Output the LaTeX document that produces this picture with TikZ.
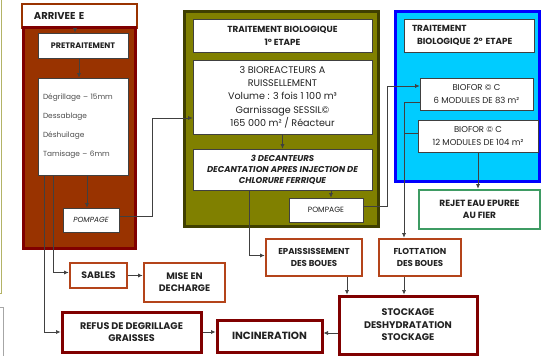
\documentclass[tikz,border=0pt]{standalone}
\usepackage{fontspec}
\setmainfont{Poppins}
\usetikzlibrary{arrows.meta}

\definecolor{rust}{HTML}{993300}
\definecolor{maroon}{HTML}{800000}
\definecolor{clay}{HTML}{B4441A}
\definecolor{olivefill}{HTML}{808000}
\definecolor{olivedark}{HTML}{3F3F00}
\definecolor{skyfill}{HTML}{00CCFF}
\definecolor{bluedge}{HTML}{0000FF}
\definecolor{greenedge}{HTML}{3E9B63}
\definecolor{wirec}{HTML}{404040}
\definecolor{inkc}{HTML}{222222}

% box from its left/top/right/bottom edges: name, x1, y1, x2, y2, style, text
\newcommand\blk[7]{%
  \node[#6, minimum width={(#4-#2)*1pt}, minimum height={(#5-#3)*1pt}]
    (#1) at ({(#2+#4)/2},{(#3+#5)/2}) {#7};}

\newcommand\hdfont{\fontsize{8.8}{13}\selectfont\bfseries}
\newcommand\clayfont{\fontsize{8.6}{11.8}\selectfont\bfseries}
\newcommand\redfont{\fontsize{9.6}{12.5}\selectfont\bfseries}

\tikzset{
  container/.style={line width=3pt, inner sep=0pt},
  wbox/.style={draw=black!75, line width=0.6pt, fill=white, inner sep=1pt,
               align=center, text=inkc},
  claybox/.style={draw=clay, line width=2.6pt, fill=white, inner sep=1pt,
               align=center, text=inkc, font=\clayfont},
  redbox/.style={draw=maroon, line width=3pt, fill=white, inner sep=1pt,
               align=center, text=inkc, font=\redfont},
  greenbox/.style={draw=greenedge, line width=2.6pt, fill=white, inner sep=1pt,
               align=center, text=inkc, font=\fontsize{9}{11.5}\selectfont\bfseries},
  conn/.style={draw=wirec, line width=0.7pt, -{Latex[length=4.5pt,width=4pt]}},
  wireline/.style={draw=wirec, line width=0.7pt},
}

\begin{document}
\begin{tikzpicture}[x=1pt,y=-1pt]
\fill[white] (0,0) rectangle (542,356);
\useasboundingbox (0,0) rectangle (542,356);

% frame edges at the left border
\draw[draw=olivefill!60!white, line width=0.8pt] (1,0) -- (1,293) -- (0,293);
\draw[draw=black!35, line width=0.8pt] (0,307) -- (3,307) -- (3,356);

% ---- inlet column ----
\blk{arr}{22}{4}{137}{28}{draw=rust, line width=2pt, fill=white, inner xsep=11pt,
     text width=91pt, align=left, text=inkc, font=\fontsize{10}{11}\selectfont\bfseries}{ARRIVEE E}
\blk{pretcol}{23.5}{27}{135.5}{248.5}{container, draw=maroon, fill=rust}{}
\blk{pre}{38}{33}{128}{58}{wbox, font=\fontsize{8}{9}\selectfont\bfseries}{PRETRAITEMENT}
\blk{det}{38}{78}{128}{175}{wbox, align=left, text width=80pt, inner xsep=5pt,
     font=\fontsize{7.4}{19}\selectfont, text=black!70}%
     {Dégrillage – 15mm\\Dessablage\\Déshuilage\\Tamisage – 6mm}
\blk{pomp1}{63}{208}{119}{232}{wbox, font=\fontsize{7.4}{8}\selectfont\itshape}{POMPAGE}

% ---- first biological stage ----
\blk{bio1col}{184.5}{11.5}{378.5}{226.5}{container, draw=olivedark, fill=olivefill}{}
\blk{t1}{193}{19}{372}{52}{wbox, font=\hdfont}{TRAITEMENT BIOLOGIQUE\\1° ETAPE}
\blk{bio}{193}{60}{372}{134}{wbox, font=\fontsize{9.6}{13.3}\selectfont}%
     {3 BIOREACTEURS A\\RUISSELLEMENT\\Volume : 3 fois 1 100 m³\\Garnissage SESSIL©\\165 000 m² / Réacteur}
\blk{dec}{193}{149}{372}{190}{wbox, font=\fontsize{8.5}{11}\selectfont\bfseries\itshape}%
     {3 DECANTEURS\\DECANTATION APRES INJECTION DE\\CHLORURE FERRIQUE}
\blk{pomp2}{289}{198}{363}{222}{wbox, font=\fontsize{7.6}{8}\selectfont}{POMPAGE}

% ---- second biological stage ----
\blk{bio2col}{395.5}{11.5}{539.5}{181.5}{container, draw=bluedge, fill=skyfill}{}
\blk{t2}{404}{19}{534}{52}{wbox, align=left, text width=120pt, inner xsep=5pt, font=\hdfont}%
     {\hspace*{3pt}TRAITEMENT\\\hspace*{8pt}BIOLOGIQUE 2° ETAPE}
\blk{bf1}{420}{78}{533}{110}{wbox, font=\fontsize{8.5}{13.5}\selectfont}{BIOFOR © C\\6 MODULES DE 83 m²}
\blk{bf2}{418}{120}{538}{152}{wbox, font=\fontsize{8.5}{13.5}\selectfont}{BIOFOR © C\\12 MODULES DE 104 m²}
\blk{rejet}{419}{190}{540}{229}{greenbox}{REJET EAU EPUREE\\AU FIER}

% ---- by-products and sludge ----
\blk{sab}{70}{263}{127}{288}{claybox, font=\fontsize{9.4}{11}\selectfont\bfseries}{SABLES}
\blk{mise}{144}{263}{225}{302}{claybox, font=\fontsize{9.4}{12}\selectfont\bfseries}{MISE EN\\DECHARGE}
\blk{epa}{266}{239}{362}{276}{claybox}{EPAISSISSEMENT\\DES BOUES}
\blk{flo}{379}{239}{461}{276}{claybox}{FLOTTATION\\DES BOUES}
\blk{refus}{62}{312}{201}{352}{redbox}{REFUS DE DEGRILLAGE\\GRAISSES}
\blk{inc}{217}{320}{322}{352}{redbox, font=\fontsize{10.4}{11}\selectfont\bfseries}{INCINERATION}
\blk{stock}{339}{296}{477}{354}{redbox}{STOCKAGE\\DESHYDRATATION\\STOCKAGE}

% ---- connectors ----
\draw[conn] ([xshift=-8pt]pre.north |- arr.south) -- ([xshift=-8pt]pre.north);
\draw[conn] ([xshift=-4pt]pre.south) -- ([xshift=-4pt]pre.south |- det.north);
\draw[conn] ([xshift=4pt]det.south) -- ([xshift=4pt]det.south |- pomp1.north);
\draw[conn] ([yshift=4pt]pomp1.east) -- ++(33,0) |- ([yshift=-21pt]bio.west);
\draw[conn] ([xshift=16pt]det.south west) |- ([yshift=3pt]sab.west);
\draw[conn] ([xshift=7pt]det.south west) |- (refus.west);
\draw[conn] (sab.east) -- (sab.east -| mise.west);
\draw[conn] (refus.east) -- (refus.east -| inc.west);

\draw[conn] (bio.south) -- (dec.north);
\draw[conn] ([xshift=5pt]pomp2.north |- dec.south) -- ([xshift=5pt]pomp2.north);
\draw[conn] ([yshift=4pt]pomp2.east) -- ++(24,0) |- ([yshift=8pt]bf1.west);
\draw[conn] ([xshift=-33.5pt]dec.south) |- ([yshift=2pt]epa.west);

\draw[conn] ([yshift=-8pt]bf1.west) -| ([xshift=-16pt]flo.north);
\draw[wireline] ([yshift=3pt]bf2.west) -- ++(-14,0);
\draw[conn] (bf2.south) -- (bf2.south |- rejet.north);

\draw[conn] ([xshift=33pt]epa.south) -- ([xshift=33pt]epa.south |- stock.north);
\draw[conn] ([xshift=-16pt]flo.south) -- ([xshift=-16pt]flo.south |- stock.north);
\draw[conn] ([yshift=3pt]inc.east -| stock.west) -- ([yshift=3pt]inc.east);
\end{tikzpicture}
\end{document}
